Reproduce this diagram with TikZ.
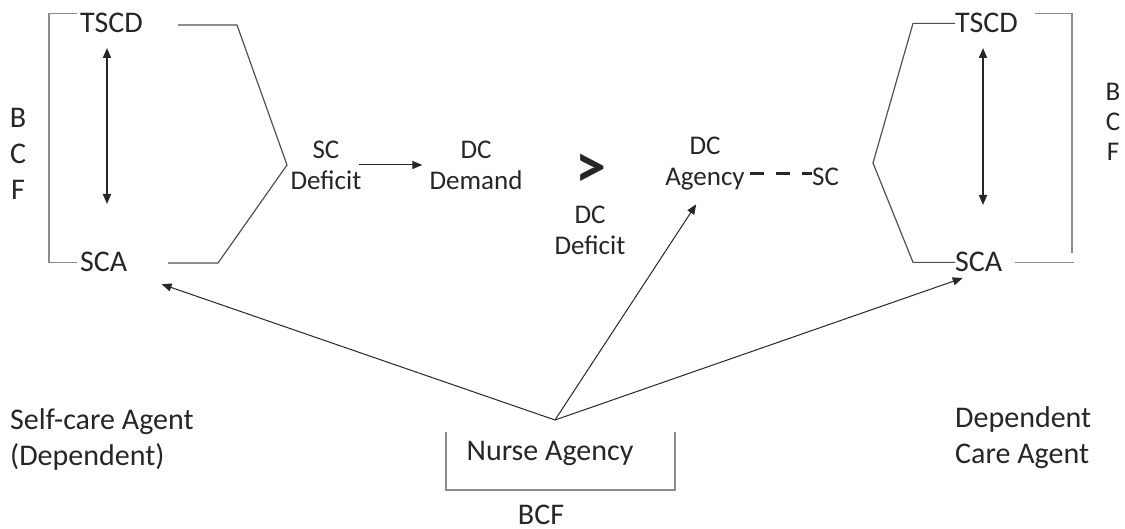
\documentclass[tikz,border=0pt]{standalone}
\usepackage{fontspec}
\setmainfont{Carlito}
\usepackage{tikz}
\usetikzlibrary{arrows.meta}

\definecolor{brkgray}{HTML}{8C8C8C}
\definecolor{chevgray}{HTML}{505050}
\definecolor{ink}{HTML}{262626}

\tikzset{
  big/.style={font=\fontsize{30}{36}\selectfont, inner sep=0pt, text=ink, align=left},
  small/.style={font=\fontsize{27}{31}\selectfont, inner sep=0pt, text=ink, align=center},
  brk/.style={draw=brkgray, line width=1.6pt},
  chev/.style={draw=chevgray, line width=1.2pt},
  link/.style={-{Triangle[length=10pt,width=8pt]}, line width=1pt, ink},
  twoway/.style={{Triangle[length=10pt,width=8pt]}-{Triangle[length=10pt,width=8pt]}, line width=1.8pt, ink},
  dashlink/.style={line width=3pt, ink, dash pattern=on 14pt off 12pt}
}

\begin{document}
\begin{tikzpicture}[x=1pt, y=-1pt]
  \useasboundingbox (0,0) rectangle (1125,529);

  % left agent
  \node[big, anchor=base west] (tscdL) at (80,33) {TSCD};
  \node[big, anchor=base west] (scaL) at (80,272) {SCA};
  \node[big, align=center, anchor=base] (bcfL) at (18,200) {B\\C\\F};
  \draw[brk] ([xshift=-3pt]tscdL.north west) -- ++(-28,0) |- ([xshift=-3pt]scaL.west);
  \coordinate (upL) at (107,48);
  \coordinate (downL) at (107,204);
  \draw[twoway] (upL) -- (downL);
  \coordinate (tipL) at (287,165);
  \draw[chev] (178,25) -- (237,25) -- (tipL) -- (218,263) -- (168,263);

  % deficits and agency
  \node[small, anchor=base] (scdef) at (326,190) {SC\\Deficit};
  \node[small, anchor=base] (dcdem) at (476,190) {DC\\Demand};
  \node[inner sep=0pt, text=ink, text height=22pt, text depth=0pt, anchor=base,
        font=\fontsize{62}{62}\selectfont\bfseries] (gt) at (591,188) {>};
  \node[small, anchor=base] (dcdef) at (590,255) {DC\\Deficit};
  \node[small, anchor=base] (agency) at (705,186) {DC\\Agency};
  \node[small, anchor=base west] (sc) at (812,186) {SC};
  \draw[link] ([xshift=-3pt]scdef.east |- tipL) -- ([xshift=-7pt]dcdem.west |- tipL);
  \draw[dashlink] ([xshift=5pt]agency.east |- 0,174) -- (sc.west |- 0,174);

  % right agent
  \node[big, anchor=base west] (tscdR) at (955,33) {TSCD};
  \node[big, anchor=base west] (scaR) at (955,272) {SCA};
  \node[small, font=\fontsize{27}{30}\selectfont, anchor=base] (bcfR) at (1113,161) {B\\C\\F};
  \coordinate (tipR) at (873,163);
  \draw[chev] (tscdR.west) -- ++(-42,0) -- (tipR) -- ([xshift=-42pt]scaR.west) -- (scaR.west);
  \coordinate (upR) at (983,48);
  \coordinate (downR) at (983,205);
  \draw[twoway] (upR) -- (downR);
  \draw[brk] ([xshift=17pt]tscdR.north east) -| (1072,253);
  \draw[brk] ([xshift=12pt]scaR.east) -- ++(59,0);

  % nurse
  \node[big, anchor=base] (nurse) at (550,460) {Nurse Agency};
  \draw[brk] (446,432) |- (675,490) -- (675,432);
  \node[big, anchor=base, text depth=0pt] (bcf) at (541,524) {BCF};
  \coordinate (apex) at (555,420);
  \draw[link, shorten >=36pt] (apex) -- (scaL.south east);
  \draw[link, shorten >=16pt] (apex) -- (agency.south);
  \draw[link, shorten >=17pt] (apex) -- (scaR.south);

  \node[big, anchor=base west] (selfcare) at (10,465) {Self-care Agent\\(Dependent)};
  \node[big, anchor=base west] (dca) at (955,463) {Dependent\\Care Agent};
\end{tikzpicture}
\end{document}
